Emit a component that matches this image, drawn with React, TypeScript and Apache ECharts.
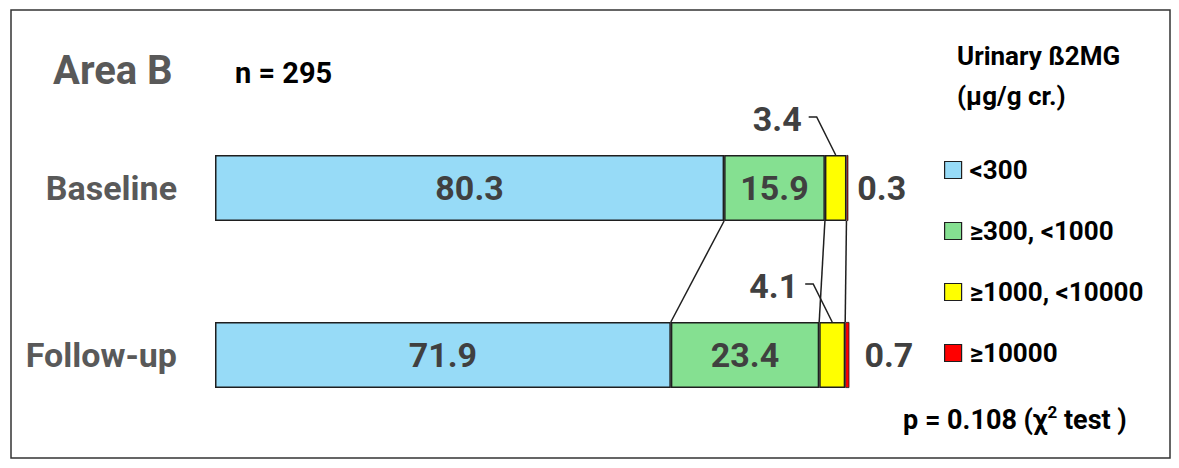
import React, { useEffect, useRef } from "react";
import * as echarts from "echarts";

const categories = ["Baseline", "Follow-up"];
const legendNames = ["<300", "≥300, <1000", "≥1000, <10000", "≥10000"];
const baselineValues = [80.3, 15.9, 3.4, 0.3];
const followupValues = [71.9, 23.4, 4.1, 0.7];
const segmentColors = ["#97DBF7", "#85E091", "#FFFF00", "#FF0000"];
const titleText = "Area B";
const nText = "n = 295";
const legendTitle = ["Urinary ß2MG", "(µg/g cr.)"];

const FONT = "Roboto, 'Noto Sans', sans-serif";
const BAR_W = 66;

function cumulative(arr: number[]) {
  const out: number[] = [];
  let s = 0;
  for (const v of arr) {
    s += v;
    out.push(+s.toFixed(2));
  }
  return out;
}

export default function App() {
  const ref = useRef<HTMLDivElement>(null);
  useEffect(() => {
    document.body.style.margin = "0";
    if (!ref.current) return;
    const chart = echarts.init(ref.current, null, { renderer: "svg" });
    const cumB = cumulative(baselineValues);
    const cumF = cumulative(followupValues);
    const connectorData = [0, 1, 2].map((i) => [cumB[i], cumF[i]]);
    const calloutData = [
      [cumB[1] + baselineValues[2] / 2, 0],
      [cumF[1] + followupValues[2] / 2, 1],
    ];
    const calloutLabels = [baselineValues[2], followupValues[2]];

    const barSeries = legendNames.map((name, si) => ({
      name,
      type: "bar",
      stack: "total",
      barWidth: BAR_W,
      itemStyle: {
        color: segmentColors[si],
        borderColor: "#1f1f1f",
        borderWidth: si === 3 ? 0.8 : 1.5,
      },
      data: [baselineValues[si], followupValues[si]].map((v, ci) => {
        const item: any = { value: v };
        if (si === 3) {
          item.label = {
            show: true,
            position: "right",
            distance: ci === 0 ? 9 : 15,
            formatter: String(v),
            fontSize: 34,
            fontWeight: "bold",
            fontFamily: FONT,
            color: "#404040",
          };
        }
        return item;
      }),
      label:
        si < 2
          ? {
              show: true,
              position: "inside",
              formatter: (p: any) => p.value.toFixed(1),
              fontSize: 34,
              fontWeight: "bold",
              fontFamily: FONT,
              color: "#404040",
            }
          : { show: false },
      emphasis: { disabled: true },
    }));

    const textBase = { fontWeight: "bold", fontFamily: FONT, verticalAlign: "middle" };

    const option: any = {
      animation: false,
      grid: {
        left: 215,
        width: 634,
        top: 104.5,
        height: 334,
        containLabel: false,
        outerBoundsMode: "none",
      },
      xAxis: { type: "value", min: 0, max: 100, show: false },
      yAxis: {
        type: "category",
        data: categories,
        inverse: true,
        axisLine: { show: false },
        axisTick: { show: false },
        splitLine: { show: false },
        axisLabel: {
          margin: 38,
          fontSize: 34,
          fontWeight: "bold",
          fontFamily: FONT,
          color: "#595959",
        },
      },
      legend: {
        data: legendNames,
        orient: "vertical",
        left: 944,
        top: 157,
        padding: 0,
        itemWidth: 17,
        itemHeight: 17,
        itemGap: 35,
        icon: "rect",
        selectedMode: false,
        itemStyle: { borderColor: "#1f1f1f", borderWidth: 1.2 },
        textStyle: {
          fontSize: 26,
          lineHeight: 25,
          fontWeight: "bold",
          fontFamily: FONT,
          color: "#000",
          padding: [0, 0, 0, 3],
        },
      },
      graphic: [
        {
          type: "rect",
          shape: { x: 11, y: 10, width: 1159, height: 448 },
          style: { fill: "none", stroke: "#333", lineWidth: 1.5 },
          silent: true,
        },
        {
          type: "text",
          x: 53,
          y: 70,
          style: { ...textBase, text: titleText, fontSize: 40, fill: "#595959" },
        },
        {
          type: "text",
          x: 235,
          y: 73,
          style: { ...textBase, text: nText, fontSize: 29, fill: "#000" },
        },
        {
          type: "text",
          x: 957,
          y: 56,
          style: { ...textBase, text: legendTitle[0], fontSize: 26, fill: "#000" },
        },
        {
          type: "text",
          x: 957,
          y: 96,
          style: { ...textBase, text: legendTitle[1], fontSize: 26, fill: "#000" },
        },
        {
          type: "text",
          x: 903,
          y: 418,
          style: {
            ...textBase,
            text: "{a|p = 0.108 (χ}{s|2}{a| test )}",
            fill: "#000",
            rich: {
              a: { fontSize: 27, fontWeight: "bold", fontFamily: FONT, lineHeight: 30, verticalAlign: "bottom" },
              s: { fontSize: 17, fontWeight: "bold", fontFamily: FONT, lineHeight: 30, verticalAlign: "top" },
            },
          },
        },
      ],
      series: [
        ...barSeries,
        {
          type: "custom",
          name: "connectors",
          silent: true,
          coordinateSystem: "cartesian2d",
          data: connectorData,
          encode: { x: [0, 1] },
          renderItem: (params: any, api: any) => {
            const b = api.value(0);
            const f = api.value(1);
            const p1 = api.coord([b, 0]);
            const p2 = api.coord([f, 1]);
            return {
              type: "line",
              shape: { x1: p1[0], y1: p1[1] + BAR_W / 2, x2: p2[0], y2: p2[1] - BAR_W / 2 },
              style: { stroke: "#1f1f1f", lineWidth: 1.5 },
            };
          },
        },
        {
          type: "custom",
          name: "callouts",
          silent: true,
          coordinateSystem: "cartesian2d",
          data: calloutData,
          encode: { x: 0, y: 1 },
          renderItem: (params: any, api: any) => {
            const p = api.coord([api.value(0), api.value(1)]);
            const ax = p[0];
            const ay = p[1] - BAR_W / 2;
            return {
              type: "group",
              children: [
                {
                  type: "polyline",
                  shape: {
                    points: [
                      [ax, ay],
                      [ax - 19, ay - 38],
                      [ax - 27, ay - 38],
                    ],
                  },
                  style: { stroke: "#1f1f1f", lineWidth: 1.5, fill: "none" },
                },
                {
                  type: "text",
                  x: ax - 34,
                  y: ay - 36,
                  style: {
                    text: String(calloutLabels[params.dataIndex]),
                    fontSize: 34,
                    fontWeight: "bold",
                    fontFamily: FONT,
                    fill: "#404040",
                    align: "right",
                    verticalAlign: "middle",
                  },
                },
              ],
            };
          },
        },
      ],
    };
    chart.setOption(option);
    return () => chart.dispose();
  }, []);
  return <div ref={ref} style={{ width: 1179, height: 468 }} />;
}
